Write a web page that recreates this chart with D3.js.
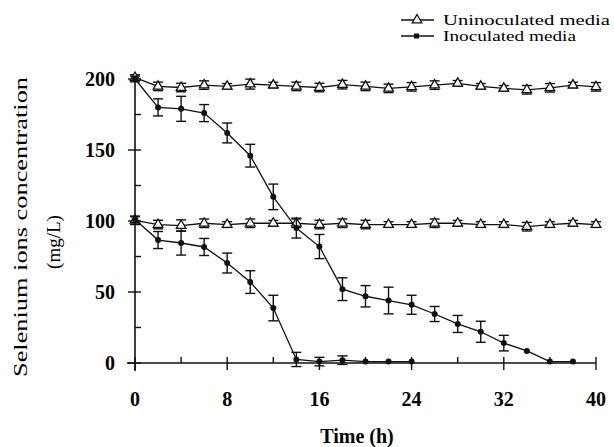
<!DOCTYPE html>
<html><head><meta charset="utf-8">
<script src="https://cdn.jsdelivr.net/npm/d3@7"></script>
<style>body{margin:0;background:#fff}svg{display:block}</style>
</head><body><svg id="c" width="614" height="447"></svg>
<script>
// Data
const timesFull = [0,2,4,6,8,10,12,14,16,18,20,22,24,26,28,30,32,34,36,38,40];
const unin200 = [201,194.8,194,195.7,194.8,196.4,195.7,194.8,194,196,194.8,193.4,194.5,195.7,196.9,194.8,193.4,192.4,193.8,195.7,194.5];
const unin200Err = [2,3,3,3,2,3.5,2,3,3,3,3,3,3,3,2,2,2,3,3,2,3];
const unin100 = [100.5,97.5,96.8,98.4,97.5,98.4,98.4,98.4,97.5,98.4,97.5,97.5,97.5,98.4,98.4,97.5,97.5,96,97.5,98.4,97.5];
const unin100Err = [3,3,4,3,2,3,2,3,3,3,3,2,2,3,2,2,2,3,2,2,2];
const inoc200Times = [0,2,4,6,8,10,12,14,16,18,20,22,24,26,28,30,32,34,36,38];
const inoc200 = [200,180,179,176,162,146,117,95,82,52,47,44,41,34.5,27.5,22,14,8.5,1,1];
const inoc200Err = [2,6,8.8,6,7,8,9,7,8.5,8,7.5,9.4,6.7,5.3,6,7.4,5.5,0,0,0];
const inoc100Times = [0,2,4,6,8,10,12,14,16,18,20,22,24];
const inoc100 = [101,86.6,84.5,81.7,70.4,57,38.7,2.5,1,2,1,1,1];
const inoc100Err = [2,6,8.5,6,7,8,9,5,3,3,0,0,0];
const xTicks = [0,8,16,24,32,40];
const xMinor = [4,12,20,28,36];
const yTicks = [0,50,100,150,200];
const yMinor = [25,75,125,175];
const legendLabels = ["Uninoculated media","Inoculated media"];

const svg = d3.select("#c");
const x = d3.scaleLinear().domain([0,40]).range([135,596]);
const y = d3.scaleLinear().domain([0,200]).range([363,79]);
const font = "'Liberation Serif','Times New Roman',serif";

// axes
const xAxis = svg.append("g").attr("transform",`translate(0,${y(0)})`)
  .call(d3.axisBottom(x).tickValues(xTicks).tickSize(0).tickPadding(0).tickFormat(()=>""));
xAxis.select(".domain").attr("d",`M${x(0)-8},0H${x(40)}`).attr("stroke","#111").attr("stroke-width",1.6);
const yAxis = svg.append("g").attr("transform",`translate(${x(0)},0)`)
  .call(d3.axisLeft(y).tickValues(yTicks).tickSize(0).tickFormat(()=>""));
yAxis.select(".domain").attr("d",`M0,${y(0)+8}V${y(200)}`).attr("stroke","#111").attr("stroke-width",1.6);

const tk = svg.append("g").attr("stroke","#111").attr("stroke-width",1.4);
xTicks.forEach(t=>tk.append("line").attr("x1",x(t)).attr("x2",x(t)).attr("y1",y(0)-6).attr("y2",y(0)+7));
xMinor.forEach(t=>tk.append("line").attr("x1",x(t)).attr("x2",x(t)).attr("y1",y(0)-6).attr("y2",y(0)));
yTicks.forEach(t=>tk.append("line").attr("y1",y(t)).attr("y2",y(t)).attr("x1",x(0)-7).attr("x2",x(0)+6));
yMinor.forEach(t=>tk.append("line").attr("y1",y(t)).attr("y2",y(t)).attr("x1",x(0)).attr("x2",x(0)+6));

svg.append("g").selectAll("text").data(xTicks).join("text")
  .attr("x",d=>x(d)).attr("y",406).attr("text-anchor","middle")
  .attr("font-family",font).attr("font-weight","bold").attr("font-size",20).text(d=>d);
svg.append("g").selectAll("text").data(yTicks).join("text")
  .attr("x",115).attr("y",d=>y(d)+7).attr("text-anchor","end")
  .attr("font-family",font).attr("font-weight","bold").attr("font-size",20).text(d=>d);

svg.append("text").attr("x",357).attr("y",443).attr("text-anchor","middle")
  .attr("font-family",font).attr("font-weight","bold").attr("font-size",20).text("Time (h)");
svg.append("text").attr("transform","translate(27,227) rotate(-90)").attr("text-anchor","middle")
  .attr("font-family",font).attr("font-size",19).attr("textLength",300).attr("lengthAdjust","spacingAndGlyphs")
  .text("Selenium ions concentration");
svg.append("text").attr("transform","translate(60,242) rotate(-90)").attr("text-anchor","middle")
  .attr("font-family",font).attr("font-size",19).text("(mg/L)");

const line = d3.line().x(d=>x(d.t)).y(d=>y(d.v));
function series(times, vals, errs, marker){
  const data = times.map((t,i)=>({t,v:vals[i],e:errs[i]}));
  const g = svg.append("g");
  g.append("path").datum(data).attr("d",line).attr("fill","none").attr("stroke","#111").attr("stroke-width",1.3);
  const eb = g.append("g").attr("stroke","#111").attr("stroke-width",1.4);
  data.filter(d=>d.e>0).forEach(d=>{
    const cx=x(d.t), y1=y(d.v+d.e), y2=y(d.v-d.e);
    eb.append("line").attr("x1",cx).attr("x2",cx).attr("y1",y1).attr("y2",y2);
    eb.append("line").attr("x1",cx-5).attr("x2",cx+5).attr("y1",y1).attr("y2",y1);
    eb.append("line").attr("x1",cx-5).attr("x2",cx+5).attr("y1",y2).attr("y2",y2);
  });
  const m = g.append("g");
  data.forEach(d=>drawMarker(m, x(d.t), y(d.v), marker));
}
function drawMarker(g, cx, cy, marker){
  if(marker==="tri"){
    g.append("path").attr("d",d3.symbol(d3.symbolTriangle,40)()).attr("transform",`translate(${cx},${cy})`)
      .attr("fill","#fff").attr("stroke","#111").attr("stroke-width",1.3);
  } else {
    g.append("circle").attr("cx",cx).attr("cy",cy).attr("r",3).attr("fill","#111");
  }
}
series(timesFull, unin200, unin200Err, "tri");
series(timesFull, unin100, unin100Err, "tri");
series(inoc200Times, inoc200, inoc200Err, "dot");
series(inoc100Times, inoc100, inoc100Err, "dot");

// legend
const lg = svg.append("g");
[20,36].forEach((ly,i)=>{
  lg.append("line").attr("x1",401).attr("x2",434).attr("y1",ly).attr("y2",ly).attr("stroke","#111").attr("stroke-width",1.4);
  if(i===0) drawMarker(lg,417,ly,"tri");
  else lg.append("rect").attr("x",414).attr("y",ly-2.5).attr("width",5).attr("height",5).attr("fill","#111");
  lg.append("text").attr("x",443).attr("y",ly+5).attr("font-family",font).attr("font-size",15)
    .attr("textLength",i===0?167:133).attr("lengthAdjust","spacingAndGlyphs").text(legendLabels[i]);
});
</script></body></html>
